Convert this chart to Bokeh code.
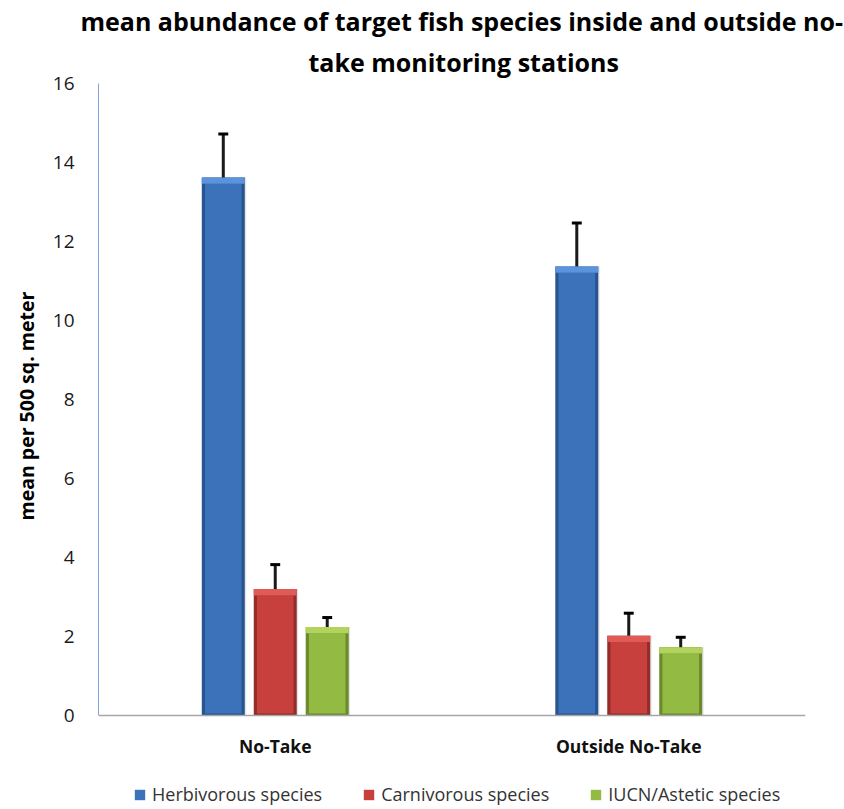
from bokeh.plotting import figure
from bokeh.models import (ColumnDataSource, FactorRange, Range1d, FixedTicker,
                          Legend, LegendItem, Title, Span)
from bokeh.transform import dodge
from bokeh.core.properties import value
from bokeh.embed import file_html
from bokeh.resources import INLINE

# ---- data ----
categories = ["No-Take", "Outside No-Take"]
series_names = ["Herbivorous species", "Carnivorous species", "IUCN/Astetic species"]
herbivorous = [13.62, 11.37]
carnivorous = [3.20, 2.02]
iucn = [2.24, 1.73]
herbivorous_err = [1.10, 1.10]
carnivorous_err = [0.62, 0.57]
iucn_err = [0.24, 0.25]
y_ticks = [0, 2, 4, 6, 8, 10, 12, 14, 16]
title_lines = ["mean abundance of target fish species inside and outside no-",
               "take monitoring stations"]
y_label = "mean per 500 sq. meter"

# ---- styles / layout ----
FONT = "Open Sans"
main_colors = ["#3c72ba", "#c8403d", "#93ba43"]
dark_colors = ["#28548f", "#922d2a", "#6b8a2c"]
light_colors = ["#5b93dc", "#e05b56", "#b2d45c"]
offsets = [-0.147, 0.0, 0.147]
bar_w = 0.1216
inset = 0.009
bevel = 0.16
cap_half = 0.014
W, H = 844, 809
TOP, LEFT, RIGHT = 83, 98, 39
PX_PER_UNIT = 39.5          # 16 units over 632 px
y_low = -(H - TOP - 16 * PX_PER_UNIT) / PX_PER_UNIT
cat_label_y = -30 / PX_PER_UNIT

p = figure(width=W, height=H,
           x_range=FactorRange(factors=categories, range_padding=0),
           y_range=Range1d(y_low, 16),
           x_axis_location=None,
           output_backend="svg", toolbar_location=None,
           min_border_left=LEFT, min_border_right=RIGHT,
           min_border_top=TOP, min_border_bottom=0)
p.title.visible = False
p.outline_line_color = None
p.xgrid.grid_line_color = None
p.ygrid.grid_line_color = None

p.yaxis.ticker = FixedTicker(ticks=y_ticks)
p.yaxis.bounds = (y_ticks[0], y_ticks[-1])
p.yaxis.axis_line_color = "#7ea6da"
p.yaxis.major_tick_line_color = None
p.yaxis.minor_tick_line_color = None
p.yaxis.major_label_standoff = 18
p.yaxis.major_label_text_font = FONT
p.yaxis.major_label_text_font_size = "19px"
p.yaxis.major_label_text_color = "#1a1a1a"

# x axis line at zero
p.add_layout(Span(location=0, dimension="width", line_color="#a6a6a6", line_width=1.5))

src = ColumnDataSource(data=dict(
    cat=categories,
    label_y=[cat_label_y] * len(categories),
    herb=herbivorous, carn=carnivorous, iucn=iucn,
    herb_hi=[v + e for v, e in zip(herbivorous, herbivorous_err)],
    carn_hi=[v + e for v, e in zip(carnivorous, carnivorous_err)],
    iucn_hi=[v + e for v, e in zip(iucn, iucn_err)],
    herb_bev=[v - bevel for v in herbivorous],
    carn_bev=[v - bevel for v in carnivorous],
    iucn_bev=[v - bevel for v in iucn],
))

# category labels
p.text(x="cat", y="label_y", text="cat", source=src, text_align="center",
       text_baseline="middle", text_font=value(FONT), text_font_size="17.5px",
       text_font_style="bold", text_color="#111111")

keys = ["herb", "carn", "iucn"]
legend_items = []
xr = p.x_range
for i, k in enumerate(keys):
    off = offsets[i]
    p.vbar(x=dodge("cat", off + 0.004, range=xr), top=k, bottom=0, width=bar_w,
           source=src, fill_color="#000000", fill_alpha=0.10, line_color=None)
    p.vbar(x=dodge("cat", off, range=xr), top=k, bottom=0, width=bar_w,
           source=src, fill_color=dark_colors[i], line_color=None)
    face = p.vbar(x=dodge("cat", off, range=xr), top=k + "_bev", bottom=0.05,
                  width=bar_w - 2 * inset, source=src,
                  fill_color=main_colors[i], line_color=None)
    p.vbar(x=dodge("cat", off, range=xr), top=k, bottom=k + "_bev",
           width=bar_w, source=src, fill_color=light_colors[i], line_color=None)
    p.segment(x0=dodge("cat", off, range=xr), y0=k,
              x1=dodge("cat", off, range=xr), y1=k + "_hi",
              source=src, line_color="#1a1a1a", line_width=3)
    p.segment(x0=dodge("cat", off - cap_half, range=xr), y0=k + "_hi",
              x1=dodge("cat", off + cap_half, range=xr), y1=k + "_hi",
              source=src, line_color="#000000", line_width=3)
    legend_items.append(LegendItem(label=series_names[i], renderers=[face]))

legend = Legend(items=legend_items, orientation="horizontal",
                location=(35, 3), padding=0, margin=0, spacing=40,
                label_standoff=6, glyph_width=13, glyph_height=13,
                label_height=18, label_text_font=FONT,
                label_text_font_size="18px", label_text_color="#333333",
                border_line_color=None, background_fill_alpha=0)
p.add_layout(legend, "center")

# title: two lines (line 2 closest to the plot, added first)
p.add_layout(Title(text=title_lines[1], align="left", offset=210, standoff=10,
                   text_font=FONT, text_font_size="25px", text_font_style="bold",
                   text_color="#000000"), "above")
p.add_layout(Title(text=title_lines[0], align="left", offset=-18, standoff=0,
                   text_font=FONT, text_font_size="25px", text_font_style="bold",
                   text_color="#000000"), "above")

# y-axis label as a side title so it can be positioned along the axis
p.add_layout(Title(text=y_label, align="left", offset=289, standoff=20,
                   vertical_align="bottom", text_font=FONT,
                   text_font_size="19.5px", text_font_style="bold",
                   text_color="#000000"), "left")

open("out.html", "w").write(file_html(p, INLINE))
